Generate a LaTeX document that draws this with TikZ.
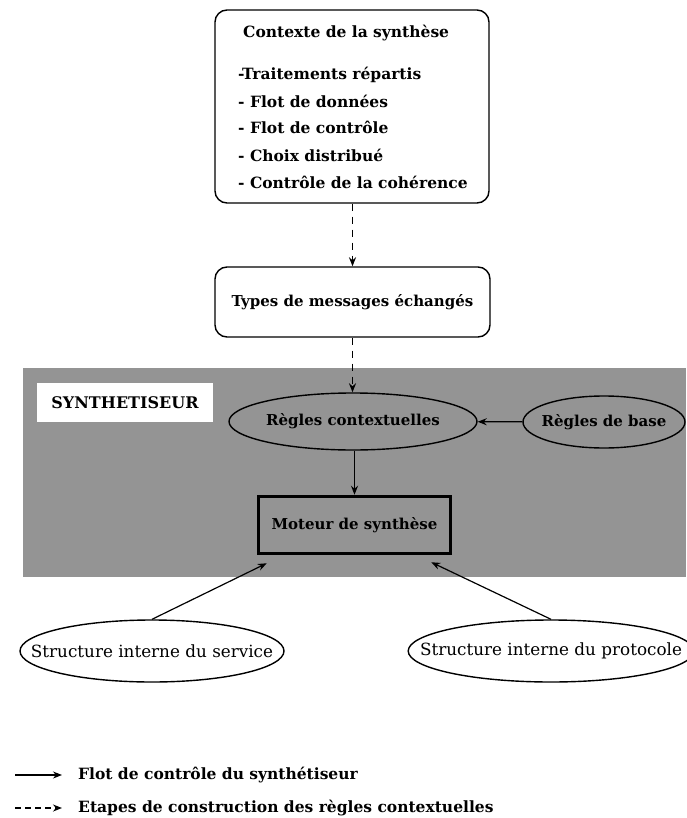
\documentclass[tikz,border=0pt]{standalone}
\usepackage{fontspec}
\setmainfont{DejaVu Serif}
\usetikzlibrary{arrows.meta,calc,shapes.geometric}
\definecolor{halftone}{gray}{0.58}
\newcommand{\txt}{\fontsize{15}{18}\selectfont\bfseries}
\newcommand{\lighttxt}{\fontsize{16.8}{19}\selectfont}

\begin{document}
\begin{tikzpicture}[x=1pt,y=-1pt,
    roundbox/.style={draw,line width=1.4pt,rounded corners=12pt,inner sep=0pt},
    rulebox/.style={draw,ellipse,line width=1.4pt,inner xsep=-30pt,inner ysep=0pt,font=\txt},
    flow/.style={-{Stealth[length=9pt,width=7pt]},line width=1.2pt},
    stage/.style={-{Stealth[length=9pt,width=7pt,open]},line width=1.4pt,dash pattern=on 7pt off 6pt},
    lbl/.style={anchor=west,inner sep=0pt,font=\fontsize{15.5}{18}\selectfont\bfseries}]
  \useasboundingbox (0,0) rectangle (686,818);
  % synthesiser area
  \fill[halftone] (23,368) rectangle (686,577);
  \node[fill=white,minimum width=176pt,minimum height=39pt,font=\fontsize{16}{18}\selectfont\bfseries] (synth) at (125,402.5) {SYNTHETISEUR};
  % context of the synthesis
  \node[roundbox,minimum width=274pt,minimum height=193pt] (ctx) at (352,106.5) {};
  \node[lbl] (ctxtitle) at (243,33) {Contexte de la synthèse};
  \node[lbl] (item1) at (238,75) {-Traitements répartis};
  \node[lbl] (item2) at (238,101) {- Flot de données};
  \node[lbl] (item3) at (238,127) {- Flot de contrôle};
  \node[lbl] (item4) at (238,155) {- Choix distribué};
  \node[lbl] (item5) at (238,182) {- Contrôle de la cohérence};
  \node[roundbox,minimum width=275pt,minimum height=70pt,font=\txt] (types) at (352.5,302) {Types de messages échangés};
  % rules and engine
  \node[rulebox,minimum width=248pt,minimum height=57pt] (regctx) at (353,421.5) {Règles contextuelles};
  \node[rulebox,minimum width=162pt,minimum height=52pt] (regbase) at (604,422) {Règles de base};
  \node[draw,line width=3.5pt,minimum width=192pt,minimum height=57pt,font=\txt] (moteur) at (354.5,525) {Moteur de synthèse};
  \node[rulebox,minimum width=264pt,minimum height=62pt,font=\lighttxt] (service) at (152,651) {Structure interne du service};
  \node[rulebox,minimum width=268pt,minimum height=62pt,font=\lighttxt] (protocole) at (551,651) {Structure interne du protocole};
  \draw[stage] (ctx.south -| types.north) -- (types.north);
  \draw[stage] (types.south) -- (types.south |- regctx.north);
  \draw[flow] (regbase) -- (regctx);
  \draw[flow] (regctx.south -| moteur.north) -- (moteur.north);
  \draw[flow] (service.north) -- ($(moteur.south west)+(10,8)$);
  \draw[flow,{Stealth[length=9pt,width=7pt]}-] ($(moteur.south east)+(-21,7)$) -- (protocole.north);
  % legend
  \coordinate (leg1) at (15,775);
  \coordinate (leg2) at (15,808);
  \node[lbl] (legflow) at (78,775) {Flot de contrôle du synthétiseur};
  \node[lbl] (legstage) at (78,808) {Etapes de construction des règles contextuelles};
  \draw[flow] (leg1) -- ($(leg1)+(47,0)$);
  \draw[stage,dash pattern=on 6pt off 4pt] (leg2) -- ($(leg2)+(47,0)$);
\end{tikzpicture}
\end{document}
